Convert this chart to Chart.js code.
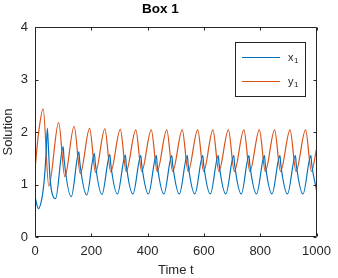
<!DOCTYPE html>
<html>
<head>
<meta charset="utf-8">
<script src="https://cdn.jsdelivr.net/npm/chart.js@4.4.1/dist/chart.umd.min.js"></script>
<style>
  html, body { margin: 0; padding: 0; background: #ffffff; }
  canvas { display: block; }
</style>
</head>
<body>
<canvas id="boxChart" width="338" height="278"></canvas>
<script>
// x1 (blue) key points: time, value
const x1Time = [0, 12, 25, 33, 39, 44, 48, 53, 60, 73,
    100, 103, 129, 156, 159, 184, 211, 214, 238, 266, 269, 293,
    321, 324, 348, 376, 379, 403, 431, 434, 458, 486, 489, 513,
    541, 544, 568, 596, 599, 623, 651, 654, 678, 706, 709, 733,
    760, 763, 787, 815, 818, 842, 870, 873, 897, 925, 928, 952,
    980, 983, 1000];
const x1Vals = [0.77, 0.54, 0.75, 1.10, 1.55, 2.07, 1.66, 1.15, 0.85, 0.73,
    1.72, 1.50, 0.77, 1.62, 1.43, 0.80, 1.59, 1.41, 0.81, 1.57, 1.39, 0.82,
    1.56, 1.38, 0.82, 1.55, 1.38, 0.82, 1.55, 1.38, 0.82, 1.55, 1.38, 0.82,
    1.55, 1.38, 0.82, 1.55, 1.38, 0.82, 1.55, 1.38, 0.82, 1.55, 1.38, 0.82,
    1.55, 1.38, 0.82, 1.55, 1.38, 0.82, 1.55, 1.38, 0.82, 1.55, 1.38, 0.82,
    1.55, 1.38, 0.89];

// y1 (orange) key points
const y1Time = [0, 12, 29, 49, 84, 106, 139, 161, 194, 215, 248, 269,
    303, 324, 358, 379, 413, 434, 468, 489, 523, 544, 578, 599,
    632, 653, 687, 708, 742, 763, 797, 818, 851, 872, 906, 927,
    961, 982, 1000];
const y1Vals = [1.28, 1.95, 2.44, 0.97, 2.18, 1.15, 2.11, 1.21, 2.07, 1.23, 2.06, 1.24,
    2.05, 1.25, 2.04, 1.25, 2.04, 1.25, 2.04, 1.25, 2.04, 1.25, 2.04, 1.25,
    2.04, 1.25, 2.04, 1.25, 2.04, 1.25, 2.04, 1.25, 2.04, 1.25, 2.04, 1.25,
    2.04, 1.25, 1.68];

const seriesNames = ['x₁', 'y₁'];
const seriesColors = ['#0072BD', '#D95319'];
const xTicks = [0, 200, 400, 600, 800, 1000];
const yTicks = [0, 1, 2, 3, 4];

const FONT = '"Liberation Sans", Arial, sans-serif';
const AXIS = '#262626';

Chart.defaults.font.family = FONT;
Chart.defaults.color = AXIS;

const toPoints = (ts, vs) => ts.map((t, i) => ({ x: t, y: vs[i] }));

// frame with inward ticks on all four sides (MATLAB box on)
const framePlugin = {
    id: 'frame',
    afterDatasetsDraw(chart) {
        const { ctx, chartArea: a, scales } = chart;
        const L = Math.round(a.left) + 0.5, R = Math.round(a.right) - 0.5;
        const T = Math.round(a.top) + 0.5, B = Math.round(a.bottom) - 0.5;
        ctx.save();
        ctx.strokeStyle = AXIS;
        ctx.lineWidth = 1;
        ctx.beginPath();
        ctx.rect(L, T, R - L, B - T);
        xTicks.forEach(v => {
            const px = Math.round(scales.x.getPixelForValue(v)) + 0.5;
            ctx.moveTo(px, B); ctx.lineTo(px, B - 3);
            ctx.moveTo(px, T); ctx.lineTo(px, T + 3);
        });
        yTicks.forEach(v => {
            const py = Math.round(scales.y.getPixelForValue(v)) + 0.5;
            ctx.moveTo(L, py); ctx.lineTo(L + 3, py);
            ctx.moveTo(R, py); ctx.lineTo(R - 3, py);
        });
        ctx.stroke();
        ctx.restore();
    }
};

// boxed legend inside the axes, top right
const legendPlugin = {
    id: 'boxLegend',
    afterDraw(chart) {
        const ctx = chart.ctx;
        const bx = 235.5, by = 42.5, bw = 70, bh = 54;
        ctx.save();
        ctx.fillStyle = '#ffffff';
        ctx.fillRect(bx, by, bw, bh);
        ctx.strokeStyle = AXIS;
        ctx.lineWidth = 1;
        ctx.strokeRect(bx, by, bw, bh);
        chart.data.datasets.forEach((ds, i) => {
            const ly = 57.5 + i * 24;
            ctx.beginPath();
            ctx.strokeStyle = ds.borderColor;
            ctx.lineWidth = 1.2;
            ctx.moveTo(242, ly);
            ctx.lineTo(280, ly);
            ctx.stroke();
            const base = ds.label.charAt(0);
            ctx.fillStyle = AXIS;
            ctx.textBaseline = 'alphabetic';
            ctx.font = '11px ' + FONT;
            ctx.fillText(base, 288, ly + 3);
            const w = ctx.measureText(base).width;
            ctx.font = '8px ' + FONT;
            ctx.fillText('1', 288 + w + 0.5, ly + 5.5);
        });
        ctx.restore();
    }
};

const ctx = document.getElementById('boxChart').getContext('2d');
const boxChart = new Chart(ctx, {
    type: 'line',
    data: {
        datasets: [{
            label: seriesNames[0],
            data: toPoints(x1Time, x1Vals),
            borderColor: seriesColors[0],
            borderWidth: 1.2,
            pointRadius: 0,
            cubicInterpolationMode: 'monotone'
        }, {
            label: seriesNames[1],
            data: toPoints(y1Time, y1Vals),
            borderColor: seriesColors[1],
            borderWidth: 1.2,
            pointRadius: 0,
            cubicInterpolationMode: 'monotone'
        }]
    },
    options: {
        responsive: false,
        animation: false,
        layout: { padding: { top: 0, left: 0, right: 17, bottom: 0 } },
        plugins: {
            legend: { display: false },
            tooltip: { enabled: false },
            title: {
                display: true,
                text: 'Box 1',
                color: '#000000',
                font: { size: 13.5, weight: 'bold' },
                padding: { top: 1, bottom: 9.8 }
            }
        },
        scales: {
            x: {
                type: 'linear',
                min: 0,
                max: 1000,
                afterBuildTicks: s => { s.ticks = xTicks.map(v => ({ value: v })); },
                afterFit: s => { s.height = 41; },
                grid: { display: false, drawTicks: false },
                border: { display: false },
                ticks: {
                    padding: 7, maxRotation: 0, font: { size: 13 }, color: AXIS,
                    callback: v => String(v)
                },
                title: { display: true, text: 'Time t', font: { size: 13 }, color: AXIS, padding: { top: 0, bottom: 0 } }
            },
            y: {
                min: 0,
                max: 4,
                afterBuildTicks: s => { s.ticks = yTicks.map(v => ({ value: v })); },
                afterFit: s => { s.width = 35; },
                grid: { display: false, drawTicks: false },
                border: { display: false },
                ticks: { padding: 7, font: { size: 13 }, color: AXIS, callback: v => String(v) },
                title: { display: true, text: 'Solution', font: { size: 13 }, color: AXIS, padding: { top: 1, bottom: 0 } }
            }
        }
    },
    plugins: [framePlugin, legendPlugin]
});
</script>
</body>
</html>
